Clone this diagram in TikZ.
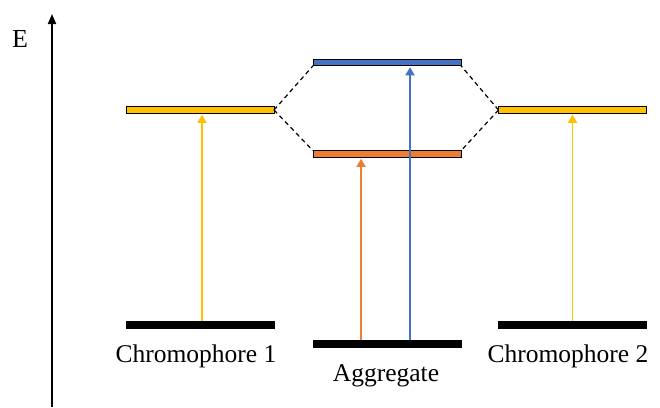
\documentclass[tikz,border=0pt]{standalone}
\usepackage{fontspec}
\setmainfont{Liberation Serif}
\usetikzlibrary{arrows.meta,calc}
\definecolor{lvyellow}{HTML}{FFC000}
\definecolor{lvblue}{HTML}{4472C4}
\definecolor{lvorange}{HTML}{ED7D31}
\tikzset{
  level/.style={draw=black, line width=1pt, fill=#1, minimum width=148pt,
    minimum height=6.5pt, inner sep=0pt, outer sep=0pt},
  ground/.style={fill=black, minimum width=149pt, minimum height=8pt,
    inner sep=0pt, outer sep=0pt},
  excite/.style={draw=#1, line width=1.7pt,
    -{Triangle[width=9pt,length=8pt]}, shorten >=1.5pt},
  mix/.style={draw=black, line width=1.2pt, dash pattern=on 4.5pt off 3.5pt},
  label/.style={font=\fontsize{25.5}{30}\selectfont, anchor=base, inner sep=0pt}
}
\begin{document}
\begin{tikzpicture}[x=1pt,y=-1pt]
  \useasboundingbox (0,0) rectangle (660,407);
  % energy axis
  \coordinate (axbot) at (52,407);
  \coordinate (axtop) at (52,14);
  \draw[line width=1.8pt, -{Triangle[width=8pt,length=10pt]}] (axbot) -- (axtop);
  \node[label, font=\fontsize{26}{30}\selectfont] (E) at (20,47) {E};

  % excited levels
  \node[level=lvyellow] (c1e) at (200,110) {};
  \node[level=lvyellow] (c2e) at (572.5,110) {};
  \node[level=lvblue]   (agu) at (387,62.5) {};
  \node[level=lvorange] (agl) at (387,154) {};

  % ground levels
  \node[ground] (c1g) at (200.5,325) {};
  \node[ground] (c2g) at (572.5,325) {};
  \node[ground] (agg) at (387,344) {};

  % level mixing
  \draw[mix] (c1e.east) -- (agu.south west);
  \draw[mix] (c1e.east) -- (agl.north west);
  \draw[mix] (c2e.west) -- (agu.south east);
  \draw[mix] (c2e.west) -- (agl.north east);

  % transitions
  \coordinate (ao0) at ($(agg.north)+(-26,0)$);
  \coordinate (ao1) at ($(agl.south)+(-26,0)$);
  \coordinate (ab0) at ($(agg.north)+(23,0)$);
  \coordinate (ab1) at ($(agu.south)+(23,0)$);
  \draw[excite=lvyellow] ($(c1g.north)+(1.5,0)$) -- ($(c1e.south)+(2,0)$);
  \draw[excite=lvyellow] (c2g.north) -- (c2e.south);
  \draw[excite=lvorange] (ao0) -- (ao1);
  \draw[excite=lvblue] (ab0) -- (ab1);

  % labels
  \node[label] (l1) at (196,362) {Chromophore 1};
  \node[label] (l2) at (386,381) {Aggregate};
  \node[label] (l3) at (568,362) {Chromophore 2};
\end{tikzpicture}
\end{document}
